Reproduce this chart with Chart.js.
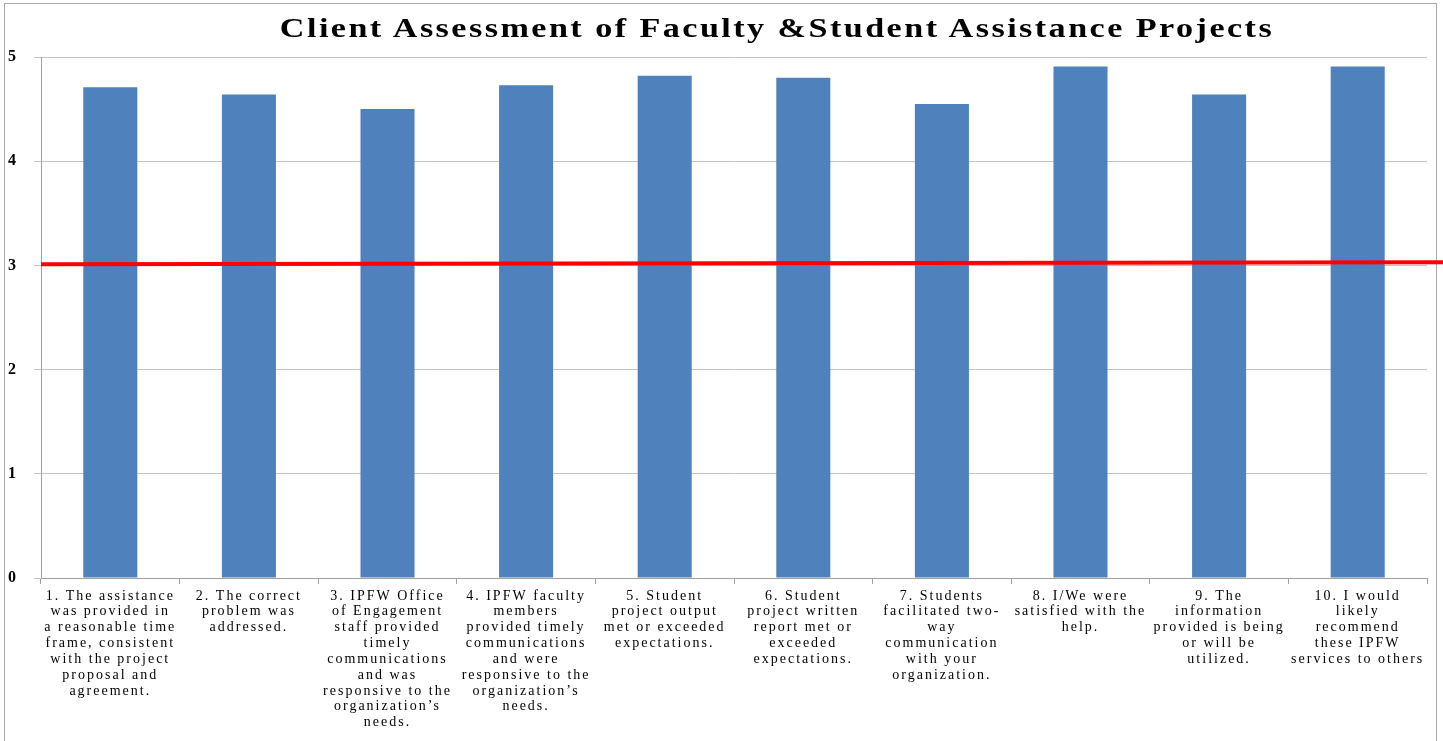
<!DOCTYPE html>
<html>
<head>
<meta charset="utf-8">
<script src="https://cdn.jsdelivr.net/npm/chart.js@4/dist/chart.umd.min.js"></script>
<style>
    html, body { margin: 0; padding: 0; background: #fff; overflow: hidden; }
    #frame {
        position: absolute; left: 4px; top: 3px; width: 1431px; height: 760px;
        border: 1.5px solid #a8a8a8;
    }
    #title {
        position: absolute; left: 0; top: 13px; width: 1554px; text-align: center;
        font: bold 28px 'Liberation Serif', 'Times New Roman', serif; line-height: 30px;
        letter-spacing: 2px; color: #000; white-space: nowrap;
        transform: scaleX(1.22); transform-origin: 777px 0;
    }
    #chart { position: absolute; left: 0; top: 0; }
</style>
</head>
<body>
<div id="frame"></div>
<canvas id="chart" width="1443" height="741"></canvas>
<div id="title">Client Assessment of Faculty &amp;Student Assistance Projects</div>
<script>
    // Survey questions (x axis), already broken into lines as in the original
    const questions = [
        ['1. The assistance', 'was provided in', 'a reasonable time', 'frame, consistent', 'with the project', 'proposal and', 'agreement.'],
        ['2. The correct', 'problem was', 'addressed.'],
        ['3. IPFW Office', 'of Engagement', 'staff provided', 'timely', 'communications', 'and was', 'responsive to the', 'organization’s', 'needs.'],
        ['4. IPFW faculty', 'members', 'provided timely', 'communications', 'and were', 'responsive to the', 'organization’s', 'needs.'],
        ['5. Student', 'project output', 'met or exceeded', 'expectations.'],
        ['6. Student', 'project written', 'report met or', 'exceeded', 'expectations.'],
        ['7. Students', 'facilitated two-', 'way', 'communication', 'with your', 'organization.'],
        ['8. I/We were', 'satisfied with the', 'help.'],
        ['9. The', 'information', 'provided is being', 'or will be', 'utilized.'],
        ['10. I would', 'likely', 'recommend', 'these IPFW', 'services to others']
    ];

    // Mean rating per question
    const ratings = [4.71, 4.64, 4.5, 4.73, 4.82, 4.8, 4.55, 4.91, 4.64, 4.91];

    // Red reference line (value at left end, value at right end)
    const threshold = [3.01, 3.03];

    const yTicks = { min: 0, max: 5, step: 1 };

    // Canvas letter spacing, to match the wide lettering of the original
    const spacing = {
        id: 'spacing',
        beforeUpdate(chart) { chart.ctx.letterSpacing = '2px'; },
        beforeDraw(chart) { chart.ctx.letterSpacing = '2px'; }
    };

    // Red line, runs from the plot's left edge to the right edge of the page
    const thresholdLine = {
        id: 'thresholdLine',
        afterDatasetsDraw(chart) {
            const y = chart.scales.y;
            const ctx = chart.ctx;
            ctx.save();
            ctx.strokeStyle = '#ff0000';
            ctx.lineWidth = 4;
            ctx.beginPath();
            ctx.moveTo(chart.chartArea.left, y.getPixelForValue(threshold[0]));
            ctx.lineTo(chart.width, y.getPixelForValue(threshold[1]));
            ctx.stroke();
            ctx.restore();
        }
    };

    new Chart(document.getElementById('chart'), {
        type: 'bar',
        data: {
            labels: questions,
            datasets: [{
                data: ratings,
                backgroundColor: '#4f81bd',
                borderWidth: 0,
                categoryPercentage: 1,
                barPercentage: 0.39
            }]
        },
        options: {
            responsive: false,
            animation: false,
            layout: { padding: { top: 57, left: 8, right: 16, bottom: 0 } },
            plugins: {
                legend: { display: false },
                tooltip: { enabled: false }
            },
            scales: {
                x: {
                    grid: { offset: true, drawOnChartArea: false, tickLength: 6, color: '#a0a0a0' },
                    border: { color: '#a0a0a0' },
                    ticks: {
                        autoSkip: false,
                        maxRotation: 0,
                        minRotation: 0,
                        padding: 4,
                        color: '#000',
                        font: { family: "'Liberation Serif', serif", size: 14, lineHeight: 1.13 }
                    },
                    afterFit(scale) { scale.height = 163; }
                },
                y: {
                    min: yTicks.min,
                    max: yTicks.max,
                    grid: { color: '#c4c4c4', tickLength: 7 },
                    border: { color: '#a0a0a0' },
                    ticks: {
                        stepSize: yTicks.step,
                        crossAlign: 'far',
                        color: '#000',
                        font: { family: "'Liberation Serif', serif", size: 16, weight: 'bold' }
                    },
                    afterFit(scale) { scale.width = 33; }
                }
            }
        },
        plugins: [spacing, thresholdLine]
    });
</script>
</body>
</html>
